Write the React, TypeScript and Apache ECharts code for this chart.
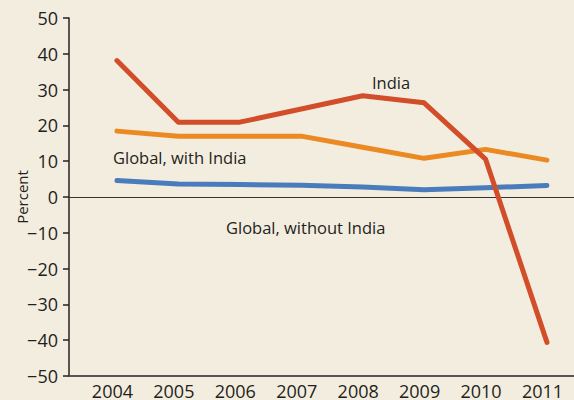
import React, { useEffect, useRef } from "react";
import * as echarts from "echarts";

const years = [2004, 2005, 2006, 2007, 2008, 2009, 2010, 2011];
const india = [38.1, 20.9, 20.9, 24.6, 28.3, 26.3, 10.6, -40.6];
const globalWithIndia = [18.4, 17.0, 17.0, 17.0, 13.9, 10.8, 13.3, 10.3];
const globalWithoutIndia = [4.6, 3.6, 3.5, 3.3, 2.8, 2.0, 2.6, 3.2];
const seriesNames = ["India", "Global, with India", "Global, without India"];

const FONT = "'Open Sans', 'Noto Sans', sans-serif";
const TEXT = "#231f20";

export default function App() {
  const ref = useRef<HTMLDivElement>(null);
  useEffect(() => {
    if (!ref.current) return;
    const chart = echarts.init(ref.current, undefined, { renderer: "svg" });
    const pair = (arr: number[]) => arr.map((v, i) => [years[i], v]);
    const lineSeries = (name: string, data: number[], color: string, extra: any = {}) => ({
      type: "line",
      name,
      data: pair(data),
      symbol: "none",
      lineStyle: { color, width: 5, cap: "round", join: "round" },
      itemStyle: { color },
      z: 3,
      ...extra,
    });
    chart.setOption({
      animation: false,
      backgroundColor: "#f3eddf",
      grid: { left: 69, right: 0, top: 18, bottom: 24, outerBoundsMode: "none" },
      xAxis: {
        type: "value",
        min: 2003.22,
        max: 2011.44,
        splitNumber: 8,
        axisLine: { onZero: false, lineStyle: { color: "#555", width: 2 } },
        axisTick: { show: false },
        splitLine: { show: false },
        axisLabel: {
          showMinLabel: false,
          showMaxLabel: false,
          color: TEXT,
          fontSize: 18,
          fontFamily: FONT,
          margin: 6,
          padding: [0, 9, 0, 0],
          formatter: (v: number) => (Number.isInteger(v) ? String(v) : ""),
        },
      },
      yAxis: {
        type: "value",
        min: -50,
        max: 50,
        interval: 10,
        name: "Percent",
        nameLocation: "middle",
        nameRotate: 90,
        nameGap: 40,
        nameMoveOverlap: false,
        nameTextStyle: { color: TEXT, fontSize: 15, fontFamily: FONT },
        axisLine: { show: true, lineStyle: { color: "#222", width: 1.5 } },
        axisTick: { show: true, inside: false, length: 6, lineStyle: { color: "#222", width: 1.5 } },
        splitLine: { show: false },
        axisLabel: {
          color: TEXT,
          fontSize: 18,
          fontFamily: FONT,
          margin: 11,
          formatter: (v: number) => (v < 0 ? "\u2212" + Math.abs(v) : String(v)),
        },
      },
      series: [
        lineSeries(seriesNames[2], globalWithoutIndia, "#4a7cbd", {
          markLine: {
            silent: true,
            symbol: "none",
            label: { show: false },
            lineStyle: { color: "#333", width: 1.2, type: "solid" },
            data: [{ yAxis: 0 }],
            z: 1,
          },
        }),
        lineSeries(seriesNames[1], globalWithIndia, "#eb8a22"),
        lineSeries(seriesNames[0], india, "#d24d2a"),
      ],
      graphic: [
        { type: "text", x: 372, y: 82, style: { text: seriesNames[0], fill: TEXT, fontSize: 16.5, fontFamily: FONT, verticalAlign: "middle" } },
        { type: "text", x: 113, y: 157, style: { text: seriesNames[1], fill: TEXT, fontSize: 16.5, fontFamily: FONT, verticalAlign: "middle" } },
        { type: "text", x: 226, y: 227, style: { text: seriesNames[2], fill: TEXT, fontSize: 16.5, fontFamily: FONT, verticalAlign: "middle" } },
      ],
    });
    return () => chart.dispose();
  }, []);
  return <div ref={ref} style={{ position: "fixed", left: 0, top: 0, width: 574, height: 400 }} />;
}
